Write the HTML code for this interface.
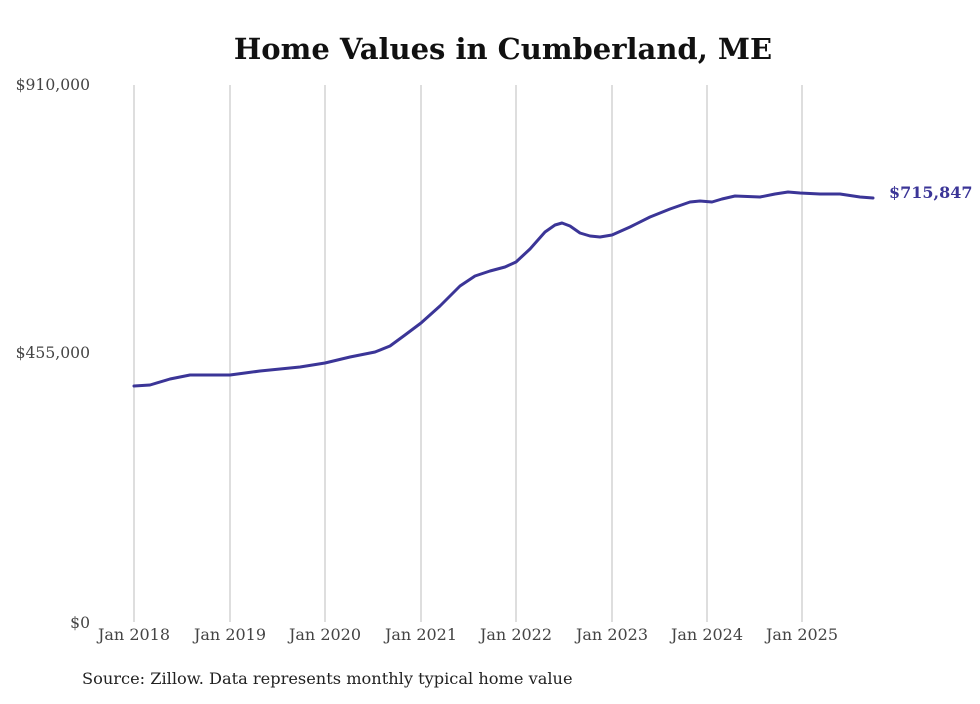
<!DOCTYPE html>
<html><head><meta charset="utf-8"><style>
body{margin:0;background:#fff;width:980px;height:699px;overflow:hidden}
svg text{font-family:"DejaVu Serif","Liberation Serif",serif}
</style></head><body>
<svg width="980" height="699" xmlns="http://www.w3.org/2000/svg">
<text x="503" y="59" text-anchor="middle" font-size="29" font-weight="bold" fill="#111">Home Values in Cumberland, ME</text>
<g stroke="#bdbdbd" stroke-width="1">
<line x1="134" y1="85" x2="134" y2="622"/><line x1="230" y1="85" x2="230" y2="622"/>
<line x1="325" y1="85" x2="325" y2="622"/><line x1="421" y1="85" x2="421" y2="622"/>
<line x1="516" y1="85" x2="516" y2="622"/><line x1="612" y1="85" x2="612" y2="622"/>
<line x1="707" y1="85" x2="707" y2="622"/><line x1="802" y1="85" x2="802" y2="622"/>
</g>
<g font-size="15.6" fill="#444" text-anchor="end">
<text x="90" y="90">$910,000</text><text x="90" y="358">$455,000</text><text x="90" y="628">$0</text>
</g>
<g font-size="16" fill="#444" text-anchor="middle">
<text x="134" y="640">Jan 2018</text><text x="230" y="640">Jan 2019</text><text x="325" y="640">Jan 2020</text>
<text x="421" y="640">Jan 2021</text><text x="516" y="640">Jan 2022</text><text x="612" y="640">Jan 2023</text>
<text x="707" y="640">Jan 2024</text><text x="802" y="640">Jan 2025</text>
</g>
<path fill="none" stroke="#3b3597" stroke-width="3" stroke-linejoin="round" stroke-linecap="round"
d="M134,386 L150,385 L170,379 L190,375 L210,375 L230,375 L245,373 L260,371 L280,369 L300,367 L325,363 L350,357 L375,352 L390,346 L405,335 L421,323 L440,306 L460,286 L475,276 L490,271 L505,267 L516,262 L530,249 L545,232 L555,225 L562,223 L570,226 L580,233 L590,236 L600,237 L612,235 L630,227 L650,217 L670,209 L690,202 L700,201 L712,202 L722,199 L735,196 L760,197 L775,194 L788,192 L800,193 L820,194 L840,194 L860,197 L873,198"/>
<text x="889" y="198" font-size="16" font-weight="bold" fill="#3b3597">$715,847</text>
<text x="82" y="684" font-size="16.2" fill="#222">Source: Zillow. Data represents monthly typical home value</text>
</svg>
</body></html>
